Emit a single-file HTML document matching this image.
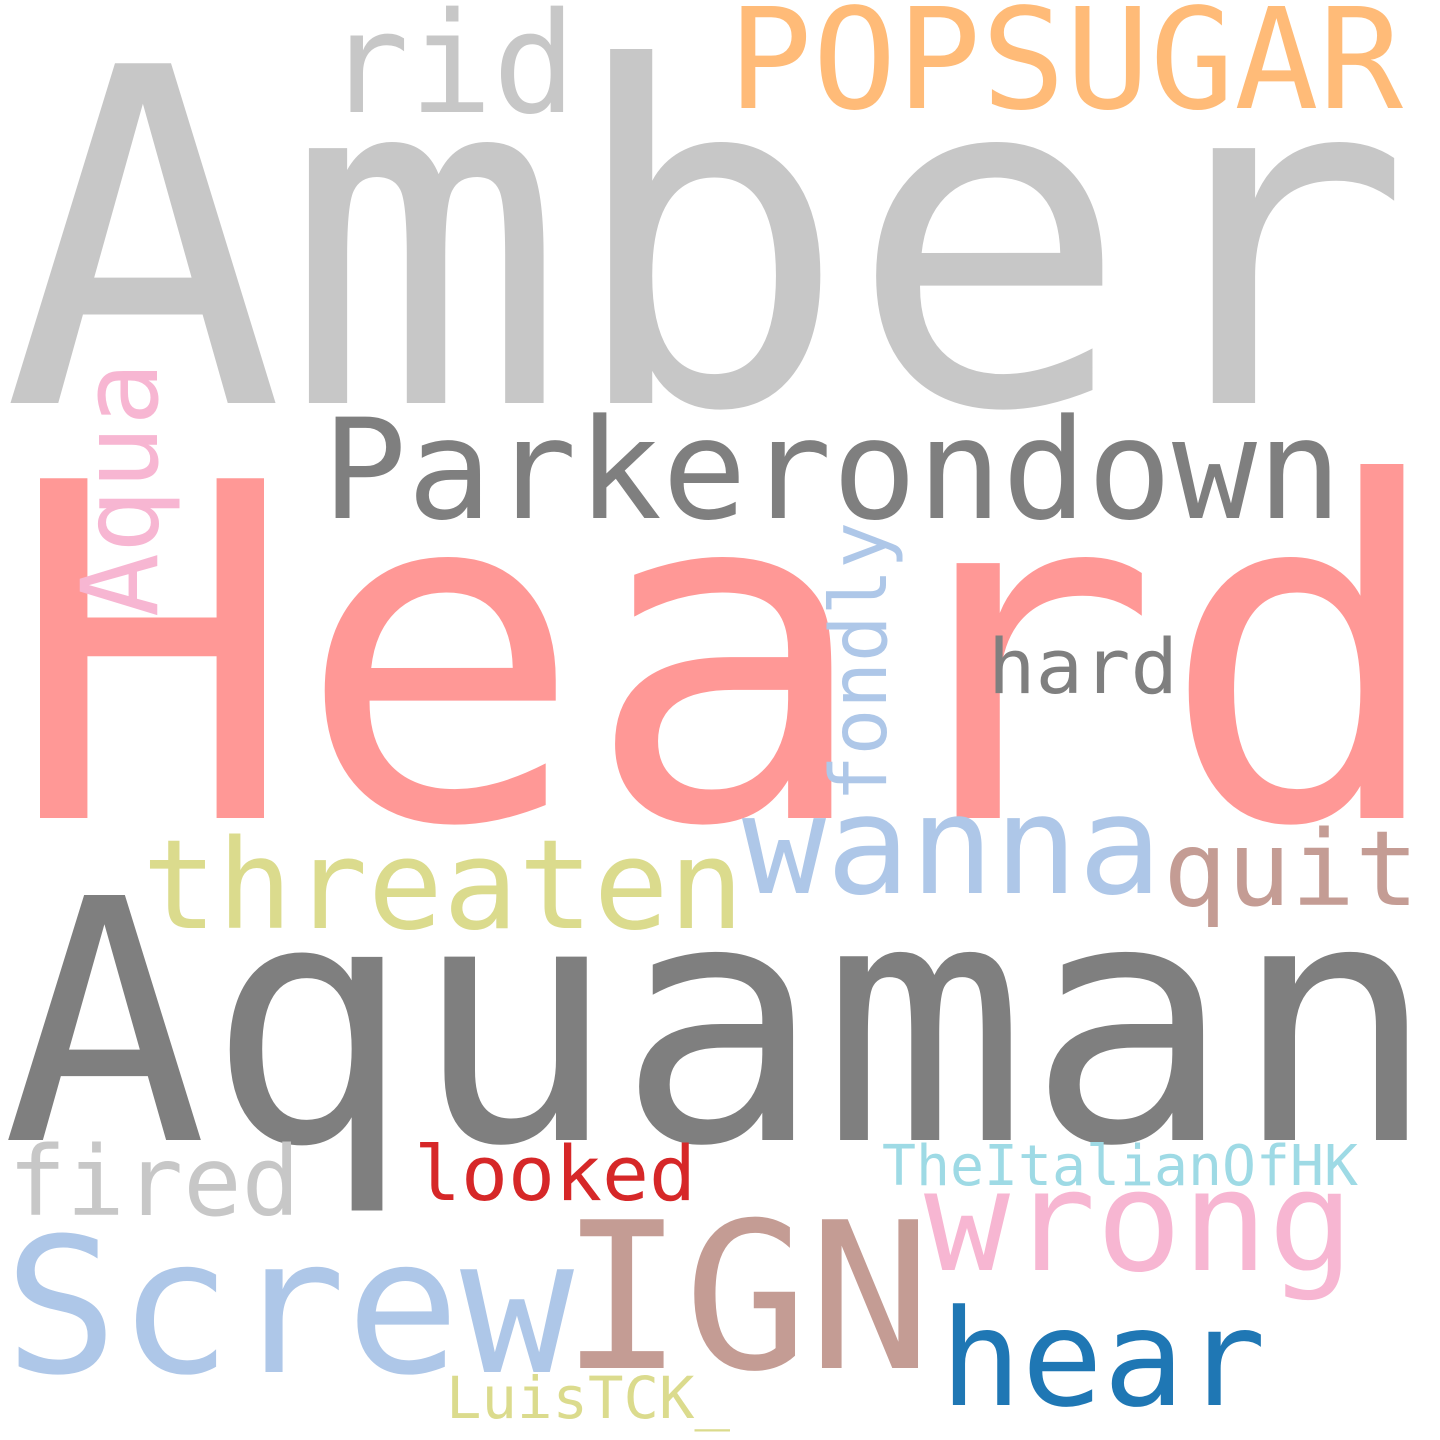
<!DOCTYPE html>
<html><head><meta charset="utf-8"><style>
html,body{margin:0;padding:0;background:#fff}
svg{display:block}
text{font-family:"DejaVu Sans Mono","Liberation Mono",monospace}
</style></head><body>
<svg width="1440" height="1440" viewBox="0 0 1440 1440">
<rect width="1440" height="1440" fill="#fff"/>
<text x="2" y="403" font-size="466" fill="#c7c7c7" textLength="1410" lengthAdjust="spacingAndGlyphs">Amber</text>
<text x="8" y="818" font-size="466" fill="#ff9896" textLength="1440" lengthAdjust="spacingAndGlyphs">Heard</text>
<text x="2" y="1140" font-size="336" fill="#7f7f7f" textLength="1435" lengthAdjust="spacingAndGlyphs">Aquaman</text>
<text x="322" y="518" font-size="139" fill="#7f7f7f" textLength="1020" lengthAdjust="spacingAndGlyphs">Parkerondown</text>
<text x="728" y="108" font-size="140" fill="#ffbb78" textLength="675" lengthAdjust="spacingAndGlyphs">POPSUGAR</text>
<text x="326" y="112" font-size="140" fill="#c7c7c7" textLength="250" lengthAdjust="spacingAndGlyphs">rid</text>
<text x="142" y="928" font-size="124" fill="#dbdb8d" textLength="602" lengthAdjust="spacingAndGlyphs">threaten</text>
<text x="742" y="893" font-size="137" fill="#aec7e8" textLength="420" lengthAdjust="spacingAndGlyphs">wanna</text>
<text x="1163" y="905" font-size="104" fill="#c49c94" textLength="256" lengthAdjust="spacingAndGlyphs">quit</text>
<text x="988" y="693" font-size="76" fill="#7f7f7f" textLength="190" lengthAdjust="spacingAndGlyphs">hard</text>
<text transform="translate(886,802) rotate(-90)" x="0" y="0" font-size="78" fill="#aec7e8" textLength="280" lengthAdjust="spacingAndGlyphs">fondly</text>
<text transform="translate(157,617) rotate(-90)" x="0" y="0" font-size="106" fill="#f7b6d2" textLength="255" lengthAdjust="spacingAndGlyphs">Aqua</text>
<text x="8" y="1215" font-size="96" fill="#c7c7c7" textLength="292" lengthAdjust="spacingAndGlyphs">fired</text>
<text x="414" y="1200" font-size="76" fill="#d62728" textLength="282" lengthAdjust="spacingAndGlyphs">looked</text>
<text x="882" y="1185" font-size="56" fill="#9edae5" textLength="476" lengthAdjust="spacingAndGlyphs">TheItalianOfHK</text>
<text x="924" y="1270" font-size="140" fill="#f7b6d2" textLength="430" lengthAdjust="spacingAndGlyphs">wrong</text>
<text x="4" y="1372" font-size="188" fill="#aec7e8" textLength="570" lengthAdjust="spacingAndGlyphs">Screw</text>
<text x="560" y="1368" font-size="204" fill="#c49c94" textLength="372" lengthAdjust="spacingAndGlyphs">IGN</text>
<text x="940" y="1405" font-size="134" fill="#1f77b4" textLength="326" lengthAdjust="spacingAndGlyphs">hear</text>
<text x="446" y="1418" font-size="58" fill="#dbdb8d" textLength="284" lengthAdjust="spacingAndGlyphs">LuisTCK_</text>
</svg>
</body></html>
